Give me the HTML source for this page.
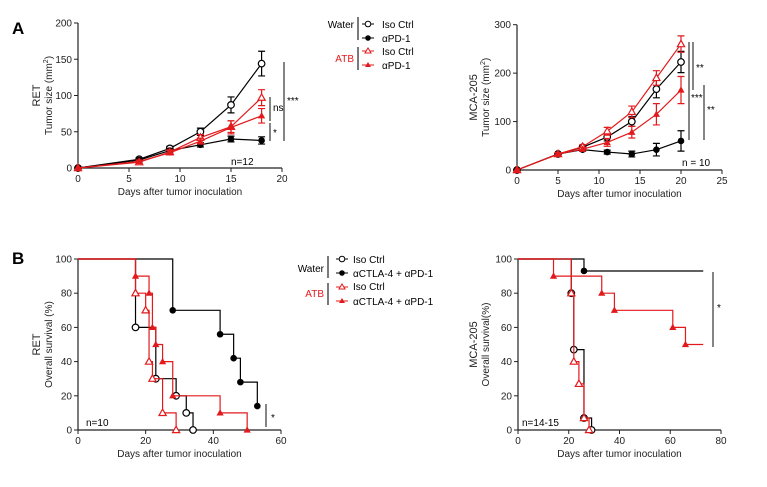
<!DOCTYPE html>
<html><head><meta charset="utf-8"><style>
body{margin:0;background:#fff}
svg{display:block;font-family:"Liberation Sans",Arial,sans-serif}
</style></head><body>
<svg id="fig" width="767" height="487" viewBox="0 0 767 487">
<text x="12" y="34" font-size="17" font-weight="bold">A</text>
<text x="12" y="264" font-size="17" font-weight="bold">B</text>
<g font-size="10">
<text x="354" y="28" text-anchor="end">Water</text>
<line x1="358" y1="17" x2="358" y2="40" stroke="#333" stroke-width="1.3"/>
<text x="354" y="62" text-anchor="end" fill="#e31a1c">ATB</text>
<line x1="358" y1="47" x2="358" y2="70" stroke="#333" stroke-width="1.3"/>
<line x1="362" y1="24" x2="374" y2="24" stroke="#000"/><circle cx="368" cy="24" r="2.8" fill="#fff" stroke="#000"/>
<text x="382" y="28">Iso Ctrl</text>
<line x1="362" y1="38" x2="374" y2="38" stroke="#000"/><circle cx="368" cy="38" r="2.8" fill="#000"/>
<text x="382" y="42">αPD-1</text>
<line x1="362" y1="51" x2="374" y2="51" stroke="#e31a1c"/><path d="M368,48 L371,53 L365,53Z" fill="#fff" stroke="#e31a1c"/>
<text x="382" y="55">Iso Ctrl</text>
<line x1="362" y1="65" x2="374" y2="65" stroke="#e31a1c"/><path d="M368,62 L371,67 L365,67Z" fill="#e31a1c"/>
<text x="382" y="69">αPD-1</text>
</g>
<g font-size="10">
<text x="324" y="272" text-anchor="end">Water</text>
<line x1="328" y1="256" x2="328" y2="278" stroke="#333" stroke-width="1.3"/>
<text x="324" y="297" text-anchor="end" fill="#e31a1c">ATB</text>
<line x1="328" y1="283" x2="328" y2="305" stroke="#333" stroke-width="1.3"/>
<line x1="336" y1="259" x2="348" y2="259" stroke="#000"/><circle cx="342" cy="259" r="2.8" fill="#fff" stroke="#000"/>
<text x="353" y="263">Iso Ctrl</text>
<line x1="336" y1="273" x2="348" y2="273" stroke="#000"/><circle cx="342" cy="273" r="2.8" fill="#000"/>
<text x="353" y="277">αCTLA-4 + αPD-1</text>
<line x1="336" y1="287" x2="348" y2="287" stroke="#e31a1c"/><path d="M342,284 L345,289 L339,289Z" fill="#fff" stroke="#e31a1c"/>
<text x="353" y="290">Iso Ctrl</text>
<line x1="336" y1="301" x2="348" y2="301" stroke="#e31a1c"/><path d="M342,298 L345,303 L339,303Z" fill="#e31a1c"/>
<text x="353" y="305">αCTLA-4 + αPD-1</text>
</g>
</svg>
<script>
// Panel A1 (RET tumor growth)
const retDays=[0,6,9,12,15,18];
const retIso=[0,12,27,50,87,144];
const retIsoErr=[0,2,3,5,11,17];
const retPD1=[0,11,24,32,40,38];
const retPD1Err=[0,2,3,3,4,5];
const retAtbIso=[0,8,22,42,57,97];
const retAtbIsoErr=[0,2,3,4,8,11];
const retAtbPD1=[0,9,21,37,56,72];
const retAtbPD1Err=[0,2,3,4,9,10];
const retXTicks=[0,5,10,15,20];
const retYTicks=[0,50,100,150,200];
// Panel A2 (MCA-205 tumor growth)
const mcaDays=[0,5,8,11,14,17,20];
const mcaIso=[0,33,47,68,100,167,223];
const mcaIsoErr=[0,3,4,8,10,18,22];
const mcaPD1=[0,33,42,37,33,42,60];
const mcaPD1Err=[0,3,3,4,6,13,21];
const mcaAtbIso=[0,33,48,80,120,190,260];
const mcaAtbIsoErr=[0,3,4,8,12,15,17];
const mcaAtbPD1=[0,33,43,57,78,115,165];
const mcaAtbPD1Err=[0,3,4,8,12,22,28];
const mcaXTicks=[0,5,10,15,20,25];
const mcaYTicks=[0,100,200,300];
// Panel B1 (RET survival): [time, survival%] steps
const retSurvIsoT=[17,23,29,32,34];
const retSurvIsoS=[60,30,20,10,0];
const retSurvComboT=[28,42,46,48,53];
const retSurvComboS=[70,56,42,28,14];
const retSurvAtbIsoT=[17,20,21,22,25,29];
const retSurvAtbIsoS=[80,70,40,30,10,0];
const retSurvAtbComboT=[17,21,22,23,25,28,42,50];
const retSurvAtbComboS=[90,80,60,50,40,20,10,0];
const retSurvXTicks=[0,20,40,60];
const survYTicks=[0,20,40,60,80,100];
// Panel B2 (MCA-205 survival)
const mcaSurvIsoT=[21,22,26,29];
const mcaSurvIsoS=[80,47,7,0];
const mcaSurvComboT=[26];
const mcaSurvComboS=[93];
const mcaSurvAtbIsoT=[21,22,24,26,28];
const mcaSurvAtbIsoS=[80,40,27,7,0];
const mcaSurvAtbComboT=[14,33,38,61,66];
const mcaSurvAtbComboS=[90,80,70,60,50];
const mcaSurvXTicks=[0,20,40,60,80];

const NS='http://www.w3.org/2000/svg';
const svg=document.getElementById('fig');
const RED='#e31a1c';
function el(tag,attrs,parent,txt){const e=document.createElementNS(NS,tag);for(const k in attrs)e.setAttribute(k,attrs[k]);if(txt!==undefined)e.textContent=txt;(parent||svg).appendChild(e);return e;}
function lin(x0,x1,p0,p1){return v=>p0+(v-x0)/(x1-x0)*(p1-p0);}
function marker(g,type,x,y,color){
  if(type==='oc'){const m=el('circle',{cx:x,cy:y,r:3.3,fill:'#fff',stroke:color,'stroke-width':1.2},g);}
  else if(type==='fc'){const m=el('circle',{cx:x,cy:y,r:3.3,fill:color},g);}
  else if(type==='ot'){const m=el('path',{d:`M${x},${y-3.8}L${x+3.6},${y+2.6}L${x-3.6},${y+2.6}Z`,fill:'#fff',stroke:color,'stroke-width':1.2},g);}
  else {const m=el('path',{d:`M${x},${y-3.8}L${x+3.6},${y+2.6}L${x-3.6},${y+2.6}Z`,fill:color},g);}
}
function axes(name,sx,sy,xt,yt,xmin,ymin,ymax,xmax,xTitle,yT1,yT2,ytx){
  const g=el('g',{'font-size':'10',fill:'#222'});
  
  
  el('line',{x1:sx(xmin),y1:sy(ymin),x2:sx(xmin),y2:sy(ymax),stroke:'#222','stroke-width':1.2},g);
  el('line',{x1:sx(xmin),y1:sy(ymin),x2:sx(xmax),y2:sy(ymin),stroke:'#222','stroke-width':1.2},g);
  xt.forEach(v=>{el('line',{x1:sx(v),y1:sy(ymin),x2:sx(v),y2:sy(ymin)+4,stroke:'#222'},g);const t=el('text',{x:sx(v),y:sy(ymin)+14,'text-anchor':'middle'},g,v);});
  yt.forEach(v=>{el('line',{x1:sx(xmin)-4,y1:sy(v),x2:sx(xmin),y2:sy(v),stroke:'#222'},g);const t=el('text',{x:sx(xmin)-6,y:sy(v)+3.5,'text-anchor':'end'},g,v);});
  const xt2=el('text',{x:(sx(xmin)+sx(xmax))/2,y:sy(ymin)+27,'text-anchor':'middle'},g,xTitle);
  
  const cy=(sy(ymin)+sy(ymax))/2;
  const a=el('text',{transform:`translate(${ytx},${cy}) rotate(-90)`,'text-anchor':'middle','font-size':'11'},g,yT1);
  
  const b=el('text',{transform:`translate(${ytx+12},${cy}) rotate(-90)`,'text-anchor':'middle'},g);
  
  b.innerHTML=yT2;
}
function growth(name,sx,sy,xs,ys,es,type,color){
  const g=el('g',{});
  
  
  el('polyline',{points:xs.map((x,i)=>sx(x)+','+sy(ys[i])).join(' '),fill:'none',stroke:color,'stroke-width':1.2},g);
  xs.forEach((x,i)=>{if(es[i]>0){const X=sx(x),a=sy(ys[i]+es[i]),b=sy(ys[i]-es[i]);
    el('path',{d:`M${X},${a}V${b}M${X-3.5},${a}H${X+3.5}M${X-3.5},${b}H${X+3.5}`,stroke:color,'stroke-width':1.2,fill:'none'},g);}
    marker(g,type,sx(x),sy(ys[i]),color);});
}
function survival(name,sx,sy,ts,ss,type,color,tend){
  const g=el('g',{});
  
  
  let d=`M${sx(0)},${sy(100)}`;let prev=100;
  ts.forEach((t,i)=>{d+=`H${sx(t)}V${sy(ss[i])}`;prev=ss[i];});
  if(tend!==undefined)d+=`H${sx(tend)}`;
  el('path',{d,fill:'none',stroke:color,'stroke-width':1.2},g);
  ts.forEach((t,i)=>marker(g,type,sx(t),sy(ss[i]),color));
}
function sig(x,y1,y2,label,lx,ly,name){
  const l=el('line',{x1:x,y1:y1,x2:x,y2:y2,stroke:'#333','stroke-width':1.2});
  
  const t=el('text',{x:lx,y:ly,'font-size':'10'},svg,label);
  
}
function txt(x,y,s,name){const t=el('text',{x,y,'font-size':'10'},svg,s);}

// A1
let sx=lin(0,20,78,282),sy=lin(0,200,168,23);
axes('ret-growth',sx,sy,retXTicks,retYTicks,0,0,200,20,'Days after tumor inoculation','RET','Tumor size (mm<tspan font-size="7" dy="-4">2</tspan><tspan dy="4">)</tspan>',40);
growth('ret-water-iso',sx,sy,retDays,retIso,retIsoErr,'oc','#000');
growth('ret-water-pd1',sx,sy,retDays,retPD1,retPD1Err,'fc','#000');
growth('ret-atb-iso',sx,sy,retDays,retAtbIso,retAtbIsoErr,'ot',RED);
growth('ret-atb-pd1',sx,sy,retDays,retAtbPD1,retAtbPD1Err,'ft',RED);
sig(270,97,121,'ns',273,111,'sig-ns');
sig(270,123,141,'*',273,136,'sig-star');
sig(284,62,141,'***',287,104,'sig-triple');
txt(231,165,'n=12','n-label-ret');
// A2
sx=lin(0,25,517,722);sy=lin(0,300,170,24.7);
axes('mca-growth',sx,sy,mcaXTicks,mcaYTicks,0,0,300,25,'Days after tumor inoculation','MCA-205','Tumor size (mm<tspan font-size="7" dy="-4">2</tspan><tspan dy="4">)</tspan>',477);
growth('mca-water-iso',sx,sy,mcaDays,mcaIso,mcaIsoErr,'oc','#000');
growth('mca-water-pd1',sx,sy,mcaDays,mcaPD1,mcaPD1Err,'fc','#000');
growth('mca-atb-iso',sx,sy,mcaDays,mcaAtbIso,mcaAtbIsoErr,'ot',RED);
growth('mca-atb-pd1',sx,sy,mcaDays,mcaAtbPD1,mcaAtbPD1Err,'ft',RED);
sig(693,42,90,'**',696,71,'sig-mca-1');
sig(689,42,140,'***',691,101,'sig-mca-2');
sig(704,85,140,'**',707,113,'sig-mca-3');
txt(682,166,'n = 10','n-label-mca');
// B1
sx=lin(0,60,78,281);sy=lin(0,100,430,259);
axes('ret-survival',sx,sy,retSurvXTicks,survYTicks,0,0,100,60,'Days after tumor inoculation','RET','Overall survival (%)',40);
survival('ret-surv-water-iso',sx,sy,retSurvIsoT,retSurvIsoS,'oc','#000');
survival('ret-surv-water-combo',sx,sy,retSurvComboT,retSurvComboS,'fc','#000');
survival('ret-surv-atb-iso',sx,sy,retSurvAtbIsoT,retSurvAtbIsoS,'ot',RED);
survival('ret-surv-atb-combo',sx,sy,retSurvAtbComboT,retSurvAtbComboS,'ft',RED);
sig(266,404,427,'*',271,421,'sig-ret-surv');
txt(86,426,'n=10','n-label-ret-surv');
// B2
sx=lin(0,80,518,721);sy=lin(0,100,430,259);
axes('mca-survival',sx,sy,mcaSurvXTicks,survYTicks,0,0,100,80,'Days after tumor inoculation','MCA-205','Overall survival(%)',477);
survival('mca-surv-water-iso',sx,sy,mcaSurvIsoT,mcaSurvIsoS,'oc','#000');
survival('mca-surv-water-combo',sx,sy,mcaSurvComboT,mcaSurvComboS,'fc','#000',73);
survival('mca-surv-atb-iso',sx,sy,mcaSurvAtbIsoT,mcaSurvAtbIsoS,'ot',RED);
survival('mca-surv-atb-combo',sx,sy,mcaSurvAtbComboT,mcaSurvAtbComboS,'ft',RED,73);
sig(713,272,347,'*',717,311,'sig-mca-surv');
txt(522,426,'n=14-15','n-label-mca-surv');
</script>
</body></html>
